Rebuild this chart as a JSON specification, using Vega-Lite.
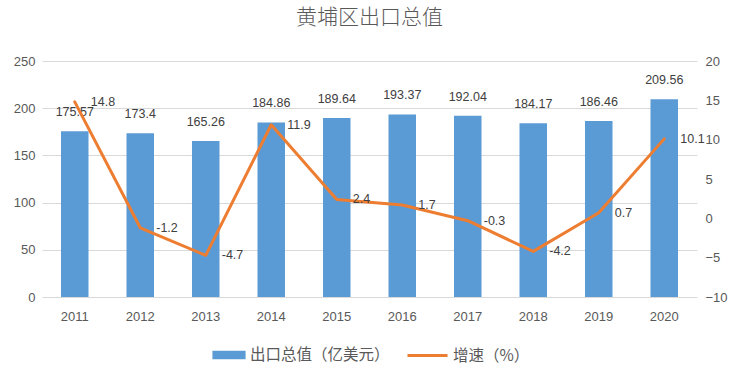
{
  "$schema": "https://vega.github.io/schema/vega-lite/v6.json",
  "autosize": {"type": "none"},
  "width": 655,
  "height": 236,
  "padding": {"left": 42, "top": 61, "right": 34, "bottom": 74},
  "background": "white",
  "title": {
    "text": "黄埔区出口总值",
    "font": "Noto Sans CJK SC",
    "fontSize": 21,
    "fontWeight": 300,
    "color": "#595959",
    "anchor": "middle",
    "offset": 27
  },
  "config": {
    "view": {"stroke": null},
    "axis": {
      "labelFont": "Liberation Sans",
      "labelFontSize": 13,
      "labelColor": "#595959",
      "domain": false,
      "ticks": false,
      "title": null
    },
    "legend": {
      "labelFont": "Noto Sans CJK SC",
      "labelFontSize": 15.5,
      "labelColor": "#595959",
      "title": null,
      "padding": 0
    }
  },
  "data": {
    "values": [
      {"year": "2011", "value": 175.57, "growth": 14.8},
      {"year": "2012", "value": 173.4, "growth": -1.2},
      {"year": "2013", "value": 165.26, "growth": -4.7},
      {"year": "2014", "value": 184.86, "growth": 11.9},
      {"year": "2015", "value": 189.64, "growth": 2.4},
      {"year": "2016", "value": 193.37, "growth": 1.7},
      {"year": "2017", "value": 192.04, "growth": -0.3},
      {"year": "2018", "value": 184.17, "growth": -4.2},
      {"year": "2019", "value": 186.46, "growth": 0.7},
      {"year": "2020", "value": 209.56, "growth": 10.1}
    ]
  },
  "encoding": {
    "x": {
      "field": "year",
      "type": "ordinal",
      "scale": {"paddingInner": 0.58, "paddingOuter": 0.29},
      "axis": {"labelAngle": 0, "labelPadding": 13, "grid": false}
    }
  },
  "layer": [
    {
      "encoding": {
        "y": {
          "field": "value",
          "type": "quantitative",
          "scale": {"domain": [0, 250], "nice": false},
          "axis": {
            "orient": "left",
            "values": [0, 50, 100, 150, 200, 250],
            "grid": true,
            "gridColor": "#D9D9D9",
            "gridWidth": 1,
            "labelPadding": 7
          }
        }
      },
      "layer": [
        {
          "mark": {"type": "bar"},
          "encoding": {
            "fill": {
              "datum": "出口总值（亿美元）",
              "type": "nominal",
              "scale": {"range": ["#5B9BD5"]},
              "legend": {
                "orient": "none",
                "legendX": 170,
                "legendY": 277,
                "symbolType": "M-1,-0.25H1V0.25H-1Z",
                "symbolSize": 1100,
                "symbolStrokeWidth": 0,
                "labelOffset": 4
              }
            }
          }
        },
        {
          "mark": {
            "type": "text",
            "baseline": "bottom",
            "dy": -12,
            "font": "Liberation Sans",
            "fontSize": 12.5,
            "color": "#404040"
          },
          "encoding": {"text": {"field": "value", "type": "nominal"}}
        }
      ]
    },
    {
      "encoding": {
        "y": {
          "field": "growth",
          "type": "quantitative",
          "scale": {"domain": [-10, 20], "nice": false, "zero": false},
          "axis": {
            "orient": "right",
            "values": [-10, -5, 0, 5, 10, 15, 20],
            "grid": false,
            "labelPadding": 8
          }
        }
      },
      "layer": [
        {
          "mark": {
            "type": "line",
            "strokeWidth": 3,
            "strokeCap": "round",
            "strokeJoin": "round"
          },
          "encoding": {
            "stroke": {
              "datum": "增速（%）",
              "type": "nominal",
              "scale": {"range": ["#ED7D31"]},
              "legend": {
                "orient": "none",
                "legendX": 364,
                "legendY": 273,
                "symbolType": "stroke",
                "symbolSize": 1600,
                "symbolStrokeWidth": 3,
                "labelOffset": 4
              }
            }
          }
        },
        {
          "mark": {
            "type": "text",
            "align": "left",
            "baseline": "middle",
            "dx": 16,
            "font": "Liberation Sans",
            "fontSize": 12.5,
            "color": "#404040"
          },
          "encoding": {"text": {"field": "growth", "type": "nominal"}}
        }
      ]
    }
  ],
  "resolve": {"scale": {"y": "independent"}}
}
